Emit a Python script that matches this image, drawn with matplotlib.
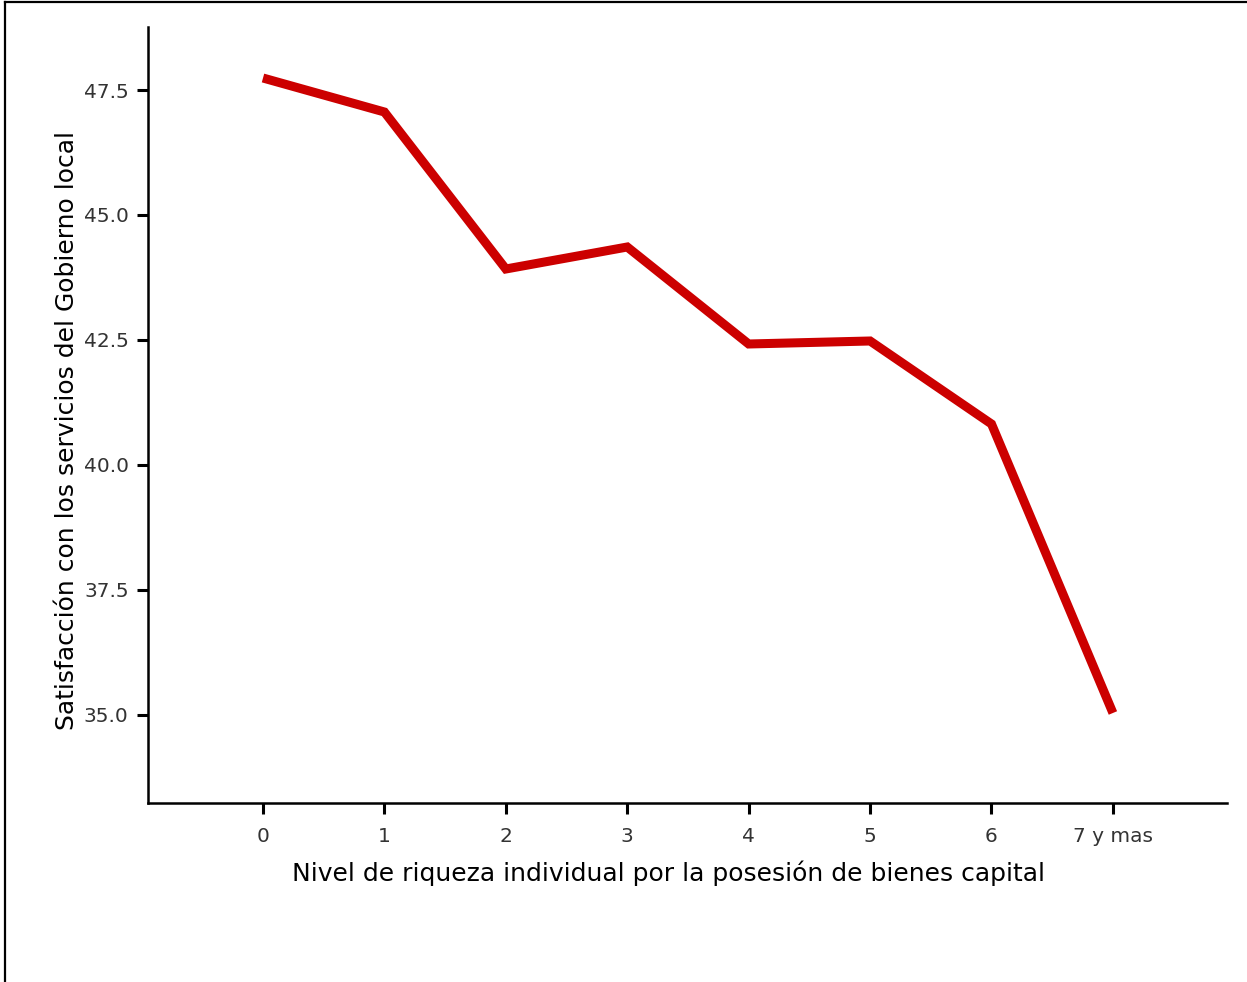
import matplotlib.pyplot as plt
from matplotlib.lines import Line2D

categories = ["0", "1", "2", "3", "4", "5", "6", "7 y mas"]
satisfaccion = [47.74, 47.06, 43.92, 44.36, 42.42, 42.48, 40.82, 35.04]
yticks = [35.0, 37.5, 40.0, 42.5, 45.0, 47.5]

plt.rcParams["font.family"] = ["DejaVu Sans"]

fig = plt.figure(figsize=(12.47, 9.82), dpi=100)
ax = fig.add_axes([0.1187, 0.1823, 0.8653, 0.7902])

x = list(range(len(categories)))
ax.plot(x, satisfaccion, color="#CC0000", linewidth=6.5, solid_capstyle="butt",
        solid_joinstyle="miter")

ax.set_xlim(-0.947, 7.94)
ax.set_ylim(33.24, 48.76)
ax.set_xticks(x)
ax.set_xticklabels(categories)
ax.set_yticks(yticks)
ax.set_yticklabels([f"{v:.1f}" for v in yticks])

for side in ["top", "right"]:
    ax.spines[side].set_visible(False)
for side in ["left", "bottom"]:
    ax.spines[side].set_linewidth(1.8)

ax.tick_params(axis="both", direction="out", length=8, width=2.2,
               labelsize=14.5, labelcolor="#333333")
ax.tick_params(axis="x", pad=9)
ax.tick_params(axis="y", pad=6)

ax.set_xlabel("Nivel de riqueza individual por la posesión de bienes capital",
              fontsize=18, color="black")
ax.set_ylabel("Satisfacción con los servicios del Gobierno local",
              fontsize=18, color="black")
ax.xaxis.set_label_coords(0.482, -0.074)
ax.yaxis.set_label_coords(-0.064, 0.48)

# frame lines along the top and left of the figure
fig.add_artist(Line2D([0.004, 1.0], [0.998, 0.998], transform=fig.transFigure,
                      color="black", linewidth=1.6))
fig.add_artist(Line2D([0.004, 0.004], [0.0, 0.998], transform=fig.transFigure,
                      color="black", linewidth=1.6))

fig.savefig("out.png", dpi=100)
